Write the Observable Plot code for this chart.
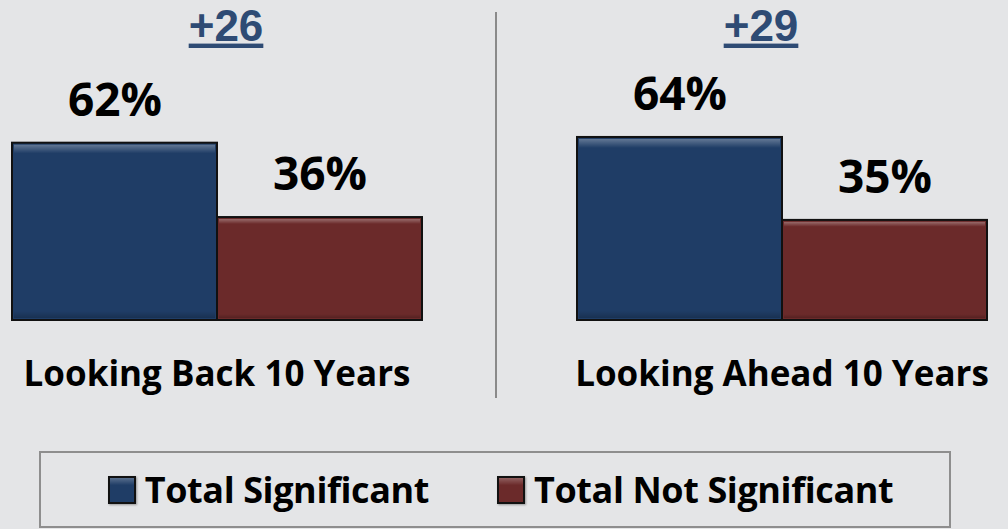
<!DOCTYPE html>
<html><head><meta charset="utf-8">
<script src="https://cdn.jsdelivr.net/npm/d3@7"></script>
<script src="https://cdn.jsdelivr.net/npm/@observablehq/plot@0.6"></script>
<style>
html,body{margin:0;padding:0;background:#e4e5e7;}
body{width:1008px;height:529px;overflow:hidden;position:relative;font-family:"Open Sans",sans-serif;}
#chart svg{display:block;}
.legend{position:absolute;left:39px;top:451px;width:912px;height:77px;box-sizing:border-box;border:2px solid #8e8e8e;display:flex;align-items:center;justify-content:center;padding-left:11px;}
.item{display:flex;align-items:center;font-weight:bold;font-size:36px;color:#000;letter-spacing:-0.4px;line-height:1.2;}
.item + .item{margin-left:68px;}
.sw{width:24px;height:24px;border:2px solid #111;margin-right:9px;box-shadow:1px 1px 2px rgba(0,0,0,0.35);}
</style></head>
<body>
<div id="chart"></div>
<div class="legend" id="legend"></div>
<script>
const groups = ["Looking Back 10 Years", "Looking Ahead 10 Years"];
const series = ["Total Significant", "Total Not Significant"];
const significant = [62, 64];
const notSignificant = [36, 35];
const gapLabels = ["+26", "+29"];
const colors = ["#1f3d66", "#6b2a2a"];

const rows = [];
groups.forEach((g, i) => {
  rows.push({group: g, series: series[0], value: significant[i]});
  rows.push({group: g, series: series[1], value: notSignificant[i]});
});
const gapRows = groups.map((g, i) => ({group: g, gap: gapLabels[i]}));

const chart = Plot.plot({
  width: 1008, height: 440,
  marginLeft: 10, marginRight: 20, marginTop: 34, marginBottom: 120,
  style: {background: "transparent", fontFamily: "'Open Sans', sans-serif", overflow: "visible"},
  fx: {domain: groups, paddingInner: 0.272, paddingOuter: 0, axis: null},
  x: {domain: series, padding: 0, axis: null},
  y: {domain: [0, 100], axis: null},
  color: {domain: series, range: colors},
  marks: [
    Plot.ruleX([groups[0]], {fx: d => d, x: () => series[1], dx: 176, insetTop: -22, insetBottom: -78, stroke: "#8a8a8a", strokeWidth: 2}),
    Plot.barY(rows, {fx: "group", x: "series", y: "value", fill: "series", stroke: "#111", strokeWidth: 2}),
    Plot.barY(rows, {fx: "group", x: "series", y: "value", fill: "url(#bevel)", inset: 2}),
    Plot.text(rows, {fx: "group", x: "series", y: "value", text: d => d.value + "%", dy: -42, lineAnchor: "middle", fontSize: 46, fontWeight: "bold", fill: "#000"}),
    Plot.text(groups, {fx: d => d, text: d => d, frameAnchor: "bottom", dy: 54, lineAnchor: "middle", fontSize: 35, fontWeight: "bold", fill: "#000", letterSpacing: "-0.5px"}),
    Plot.text([gapRows[0]], {fx: "group", text: "gap", frameAnchor: "top", dx: 9, dy: -8, lineAnchor: "middle", fontSize: 44, fontWeight: "bold", fill: "#2e4b74", fontFamily: "'Liberation Sans', sans-serif"}),
    Plot.text([gapRows[1]], {fx: "group", text: "gap", frameAnchor: "top", dx: -21, dy: -8, lineAnchor: "middle", fontSize: 44, fontWeight: "bold", fill: "#2e4b74", fontFamily: "'Liberation Sans', sans-serif"})
  ]
});
document.getElementById("chart").appendChild(chart);

// decorative bevel gradient and underline for the difference labels
const svg = d3.select(chart);
const defs = svg.insert("defs", ":first-child");
const grad = defs.append("linearGradient").attr("id", "bevel").attr("x1", 0).attr("y1", 0).attr("x2", 0).attr("y2", 1);
grad.append("stop").attr("offset", 0).attr("stop-color", "#fff").attr("stop-opacity", 0.3);
grad.append("stop").attr("offset", 0.05).attr("stop-color", "#fff").attr("stop-opacity", 0.0);
grad.append("stop").attr("offset", 0.96).attr("stop-color", "#000").attr("stop-opacity", 0.0);
grad.append("stop").attr("offset", 1).attr("stop-color", "#000").attr("stop-opacity", 0.2);
svg.selectAll("text").filter(function() { return gapLabels.includes(this.textContent); })
  .style("text-decoration", "underline")
  .style("text-decoration-thickness", "3px")
  .style("text-underline-offset", "5px");

const legend = document.getElementById("legend");
series.forEach((s, i) => {
  const item = document.createElement("div");
  item.className = "item";
  const sw = document.createElement("span");
  sw.className = "sw";
  sw.style.background = `linear-gradient(to bottom, rgba(255,255,255,0.25), rgba(255,255,255,0) 30%), ${colors[i]}`;
  const label = document.createElement("span");
  label.textContent = s;
  item.appendChild(sw);
  item.appendChild(label);
  legend.appendChild(item);
});
</script>
</body></html>
